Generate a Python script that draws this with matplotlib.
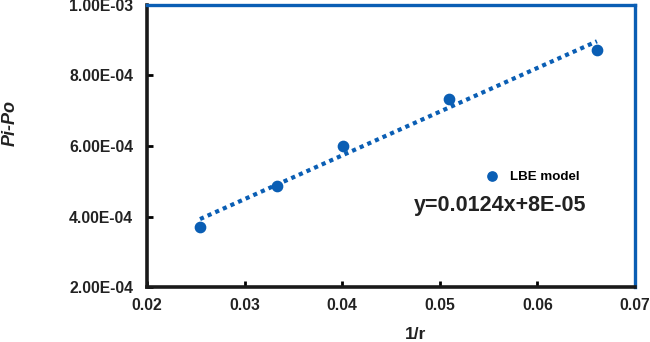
import matplotlib.pyplot as plt
import numpy as np
from matplotlib.ticker import FuncFormatter, MultipleLocator

plt.rcParams["font.family"] = ["Liberation Sans", "DejaVu Sans"]
plt.rcParams["font.weight"] = "bold"

# LBE model results: inverse radius vs pressure difference
inv_r = [0.02543, 0.03329, 0.0401, 0.0509, 0.0661]
pi_po = [3.70e-4, 4.86e-4, 6.01e-4, 7.33e-4, 8.73e-4]
equation = "y=0.0124x+8E-05"

blue = "#0A5EB4"

fig = plt.figure(figsize=(6.5, 3.42), dpi=100)
ax = fig.add_axes([0.2262, 0.1608, 0.7507, 0.8246])

ax.scatter(inv_r, pi_po, s=55, color=blue, zorder=3, label="LBE model")

# linear trendline over the data range
slope, icpt = np.polyfit(inv_r, pi_po, 1)
xs = np.array([min(inv_r), max(inv_r)])
ax.plot(xs, slope * xs + icpt, color=blue, lw=3, linestyle=(0, (1, 1)), zorder=2)

ax.set_xlim(0.02, 0.07)
ax.set_ylim(2e-4, 1e-3)
ax.xaxis.set_major_locator(MultipleLocator(0.01))
ax.yaxis.set_major_locator(MultipleLocator(2e-4))
ax.xaxis.set_major_formatter(FuncFormatter(lambda v, p: f"{v:.2f}"))
ax.yaxis.set_major_formatter(FuncFormatter(lambda v, p: f"{v:.2E}"))

ax.tick_params(direction="in", length=4, width=2, color="black",
               labelsize=11.3)
ax.tick_params(axis="y", pad=10)
ax.tick_params(axis="x", pad=8)
for lab in ax.get_xticklabels() + ax.get_yticklabels():
    lab.set_fontweight("bold")
    lab.set_color("#222222")

for side in ("left", "bottom"):
    ax.spines[side].set_color("#1a1a1a")
    ax.spines[side].set_linewidth(2.6)
for side in ("top", "right"):
    ax.spines[side].set_color(blue)
    ax.spines[side].set_linewidth(2.4)

ax.set_xlabel("1/r", fontsize=12.5, fontweight="bold", color="#222222")
ax.xaxis.set_label_coords(0.551, -0.141)
ax.set_ylabel("Pi-Po", fontsize=13, fontweight="bold", style="italic",
              color="#222222")
ax.yaxis.set_label_coords(-0.264, 0.583)

ax.legend(loc="center left", bbox_to_anchor=(0.656, 0.392), frameon=False,
          handletextpad=0.3, prop={"size": 9.6, "weight": "bold"},
          markerscale=0.9)
ax.text(0.724, 0.29, equation, transform=ax.transAxes, ha="center",
        va="center", fontsize=15.5, fontweight="bold", color="#222222")

fig.savefig("out.png", dpi=100)
